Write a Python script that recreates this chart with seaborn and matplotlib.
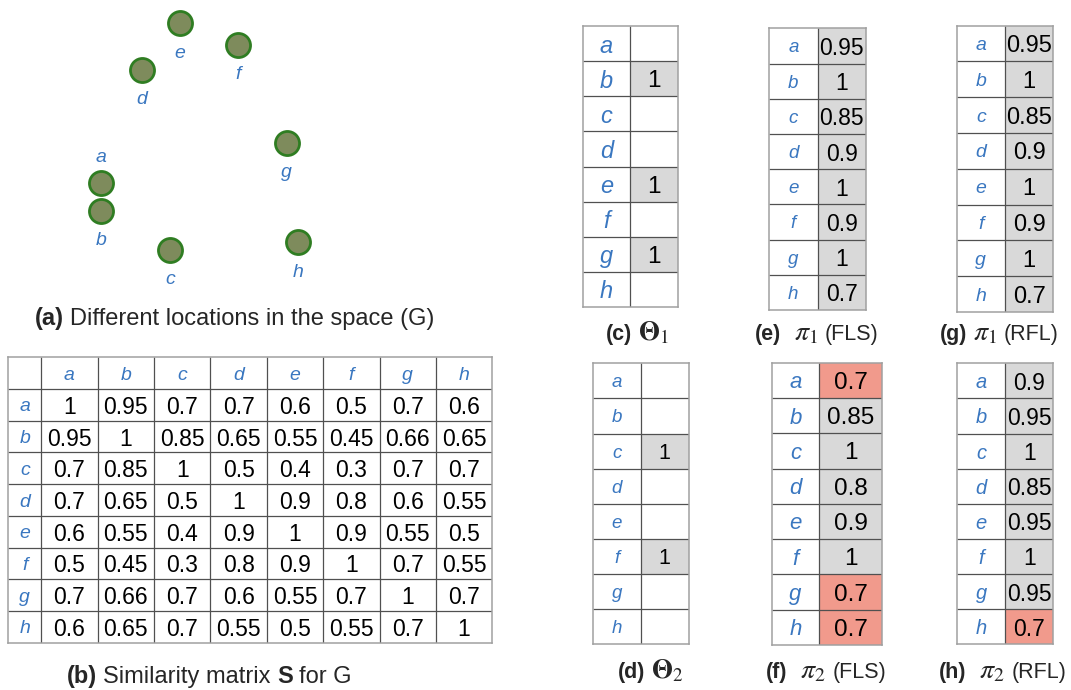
import numpy as np
import pandas as pd
import matplotlib
matplotlib.use("Agg")
import matplotlib.pyplot as plt
from matplotlib.colors import ListedColormap
import seaborn as sns

nan = np.nan

# ---- data ---------------------------------------------------------------
nodes = list("abcdefgh")

# planar positions of the eight locations
loc_x = [100.7, 100.7, 170.3, 141.7, 180.0, 238.3, 286.7, 298.3]
loc_y = [116.7, 89.0, 50.0, 230.0, 276.7, 255.0, 157.3, 57.7]

# pairwise similarity matrix S
S = [
    [1, 0.95, 0.7, 0.7, 0.6, 0.5, 0.7, 0.6],
    [0.95, 1, 0.85, 0.65, 0.55, 0.45, 0.66, 0.65],
    [0.7, 0.85, 1, 0.5, 0.4, 0.3, 0.7, 0.7],
    [0.7, 0.65, 0.5, 1, 0.9, 0.8, 0.6, 0.55],
    [0.6, 0.55, 0.4, 0.9, 1, 0.9, 0.55, 0.5],
    [0.5, 0.45, 0.3, 0.8, 0.9, 1, 0.7, 0.55],
    [0.7, 0.66, 0.7, 0.6, 0.55, 0.7, 1, 0.7],
    [0.6, 0.65, 0.7, 0.55, 0.5, 0.55, 0.7, 1],
]

theta1 = [nan, 1, nan, nan, 1, nan, 1, nan]
theta2 = [nan, nan, 1, nan, nan, 1, nan, nan]
pi1_fls = [0.95, 1, 0.85, 0.9, 1, 0.9, 1, 0.7]
pi1_rfl = [0.95, 1, 0.85, 0.9, 1, 0.9, 1, 0.7]
pi2_fls = [0.7, 0.85, 1, 0.8, 0.9, 1, 0.7, 0.7]
pi2_rfl = [0.9, 0.95, 1, 0.85, 0.95, 1, 0.95, 0.7]

# locations whose coverage falls short in the second round
pi2_fls_flagged = ["a", "g", "h"]
pi2_rfl_flagged = ["h"]

# ---- style --------------------------------------------------------------
sns.set_theme(style="white")
plt.rcParams["font.family"] = ["Liberation Sans", "DejaVu Sans"]
plt.rcParams["mathtext.fontset"] = "stix"

BLUE = "#3a77c0"
GRAY = "#d9d9d9"
RED = "#f19a8c"
INNER = "#505050"
OUTER = "#a0a0a0"
VA = "center_baseline"

W, H = 1071, 690
fig = plt.figure(figsize=(W / 100, H / 100), dpi=100)


def px_axes(x0, y0, x1, y1):
    return fig.add_axes([x0 / W, 1 - y1 / H, (x1 - x0) / W, (y1 - y0) / H])


def fmt(v):
    return "" if np.isnan(v) else f"{v:g}"


def caption_run(x, y, segments, size):
    """Lay out text pieces left to right on one baseline (y in pixels from top)."""
    text, weight, _, scale = segments[0]
    prev = fig.text(x / W, 1 - y / H, text, fontsize=size * scale,
                    fontweight=weight, ha="left", va="baseline")
    for text, weight, gap, scale in segments[1:]:
        prev = fig.axes[0].annotate(text, xy=(1, 1 - y / H), xycoords=(prev, "figure fraction"),
                                    xytext=(gap, 0), textcoords="offset points",
                                    fontsize=size * scale, fontweight=weight,
                                    ha="left", va="baseline", annotation_clip=False)


# ---- (a) locations in the plane -----------------------------------------
ax_a = px_axes(0, 0, 450, 300)
pts = pd.DataFrame({"x": loc_x, "y": loc_y, "node": nodes})
sns.scatterplot(data=pts, x="x", y="y", ax=ax_a, s=300, color="#7e8b5c",
                edgecolor="#2f7d22", linewidth=2.0, zorder=3)
for _, r in pts.iterrows():
    dy = 20 if r["node"] == "a" else -20
    ax_a.annotate(r["node"], (r["x"], r["y"]), xytext=(0, dy), textcoords="offset points",
                  ha="center", va=VA, color=BLUE, fontsize=14, fontstyle="italic")
ax_a.set_xlim(0, 450)
ax_a.set_ylim(0, 300)
ax_a.axis("off")

# ---- (b) similarity matrix ----------------------------------------------
ax_b = px_axes(8.3, 357.3, 492.3, 642.7)
S_df = pd.DataFrame(S, index=nodes, columns=nodes)
S_txt = np.vectorize(lambda v: f"{v:g}")(S_df.values)
sns.heatmap(S_df, annot=S_txt, fmt="", cmap=ListedColormap(["white"]), cbar=False,
            linewidths=0, ax=ax_b, annot_kws=dict(size=16.5, color="black", va=VA))
head_w = 0.585
ax_b.set_xlim(-head_w, 8)
ax_b.set_ylim(8, -1)
for i, n in enumerate(nodes):
    ax_b.text(-head_w / 2, i + 0.5, n, ha="center", va=VA, color=BLUE,
              fontsize=14, fontstyle="italic")
    ax_b.text(i + 0.5, -0.5, n, ha="center", va=VA, color=BLUE,
              fontsize=14, fontstyle="italic")
ax_b.hlines(range(0, 8), -head_w, 8, color=INNER, lw=0.9)
ax_b.vlines(range(0, 8), -1, 8, color=INNER, lw=0.9)
ax_b.set_xticks([])
ax_b.set_yticks([])
ax_b.set_xlabel("")
ax_b.set_ylabel("")
for sp in ax_b.spines.values():
    sp.set_visible(True)
    sp.set_color(OUTER)
    sp.set_linewidth(1.1)

# ---- (c)-(h) column tables ----------------------------------------------
cell_cmap = ListedColormap(["white", GRAY, RED])


def column_table(box, values, flagged, label_size, value_size, mid):
    x0, y0, x1, y1 = box
    ax = px_axes(x0, y0, x1, y1)
    codes = [0 if np.isnan(v) else (2 if n in flagged else 1) for n, v in zip(nodes, values)]
    df = pd.DataFrame({"v": codes}, index=nodes)
    annot = np.array([fmt(v) for v in values]).reshape(-1, 1)
    sns.heatmap(df, annot=annot, fmt="", cmap=cell_cmap, vmin=0, vmax=2, cbar=False,
                linewidths=0, ax=ax, annot_kws=dict(size=value_size, color="black", va=VA))
    left = -(mid - x0) / (x1 - mid)
    ax.set_xlim(left, 1)
    ax.set_ylim(8, 0)
    for i, n in enumerate(nodes):
        ax.text(left / 2, i + 0.5, n, ha="center", va=VA, color=BLUE,
                fontsize=label_size, fontstyle="italic")
    ax.hlines(range(1, 8), left, 1, color=INNER, lw=0.9)
    ax.vlines([0], 0, 8, color=INNER, lw=0.9)
    ax.set_xticks([])
    ax.set_yticks([])
    ax.set_xlabel("")
    ax.set_ylabel("")
    for sp in ax.spines.values():
        sp.set_visible(True)
        sp.set_color(OUTER)
        sp.set_linewidth(1.1)
    return ax


column_table((582.7, 26, 678.3, 307), theta1, [], 17, 17.5, 630)
column_table((769, 28.3, 865.7, 310), pi1_fls, [], 13.5, 16.5, 817.7)
column_table((956.7, 25.7, 1053.3, 312), pi1_rfl, [], 14, 17, 1005)
column_table((592.7, 363.3, 688.7, 644.3), theta2, [], 13.5, 15.5, 640.7)
column_table((771.7, 362.7, 882.3, 645), pi2_fls, pi2_fls_flagged, 16, 17.5, 819.3)
column_table((957.3, 363.3, 1053.3, 644.3), pi2_rfl, pi2_rfl_flagged, 14.5, 16.5, 1005)

# ---- captions -----------------------------------------------------------
fig.canvas.draw()
B, N = "bold", "normal"
caption_run(35, 325, [("(a)", B, 0, 1), ("Different locations in the space (G)", N, 4.5, 1)], 17)
caption_run(67, 683, [("(b)", B, 0, 1), ("Similarity matrix", N, 4.5, 1),
                      ("S", B, 4.5, 1), ("for G", N, 4.5, 1)], 17)
caption_run(606, 340, [("(c)", B, 0, 1), (r"$\mathbf{\Theta}_1$", N, 4, 1.25)], 15.5)
caption_run(755, 340, [("(e)", B, 0, 1), (r"$\pi_1$", N, 9, 1.3), ("(FLS)", N, 5, 1)], 15.5)
caption_run(940, 340, [("(g)", B, 0, 1), (r"$\pi_1$", N, 4, 1.3), ("(RFL)", N, 5, 1)], 15.5)
caption_run(618, 678, [("(d)", B, 0, 1), (r"$\mathbf{\Theta}_2$", N, 4, 1.25)], 15.5)
caption_run(766, 678, [("(f)", B, 0, 1), (r"$\pi_2$", N, 9, 1.3), ("(FLS)", N, 5, 1)], 15.5)
caption_run(939, 678, [("(h)", B, 0, 1), (r"$\pi_2$", N, 9, 1.3), ("(RFL)", N, 5, 1)], 15.5)

fig.savefig("out.png", dpi=100)
